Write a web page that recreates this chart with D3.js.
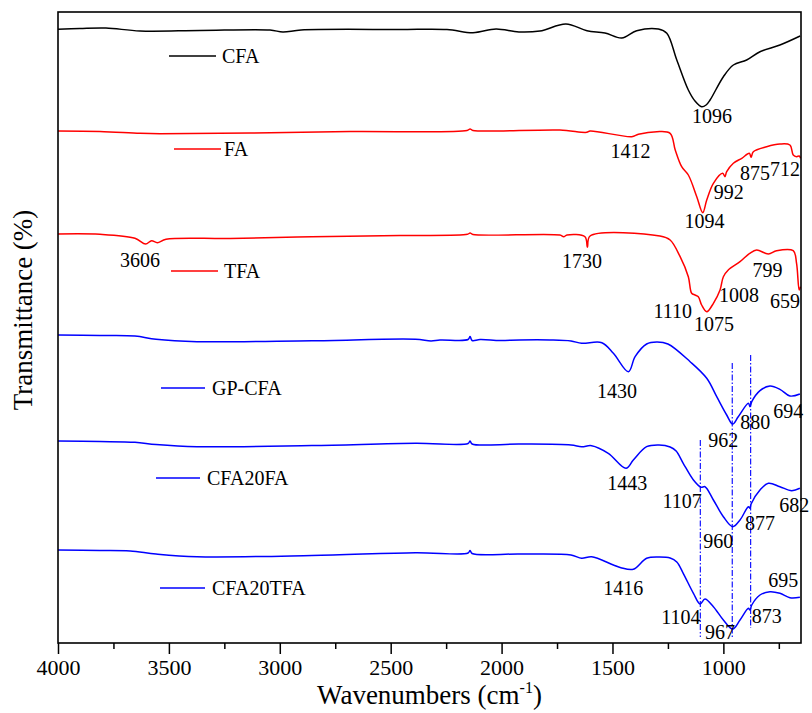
<!DOCTYPE html>
<html>
<head>
<meta charset="utf-8">
<script src="https://cdn.jsdelivr.net/npm/d3@7"></script>
<style>
  body { margin: 0; background: #fff; }
  svg { display: block; }
  text { font-family: "Liberation Serif", "Times New Roman", serif; }
</style>
</head>
<body>
<div id="chart"></div>
<script>
// FTIR spectra, stacked with offsets (arbitrary transmittance units)
// each point: [wavenumber cm-1, offset transmittance]
var cfa = [[4000,613.7],[3901,614.5],[3784,615],[3630,612],[3360,612.5],[3044,613],[2986,611],[2904,613],
  [2458,613.5],[2246,613.5],[2129,610.3],[2025,614],[1922,611],[1827,612],[1710,619],[1615,612.3],
  [1534,610],[1458,605],[1391,612.3],[1293,614],[1255,609.7],[1210,583],[1158,553],[1128,542],[1098,536.3],
  [1078,538],[1060,543],[1000,566.3],[955,578],[895,583],[835,591.3],[745,598],[654,607]];

var fa = [[4000,512],[3811,511.5],[3630,509.7],[3540,509.3],[3134,510],[2683,511.5],[2156,512.5],[2142,514],
  [2129,512.5],[1737,513],[1616,510.7],[1601,512],[1413,506.3],[1383,508.7],[1300,511.3],[1240,509.7],
  [1217,493],[1188,476.3],[1158,468],[1120,446.3],[1093,430.3],[1075,443],[1045,459.7],[1003,469.7],
  [993,466.3],[985,471.3],[955,479.7],[917,484.7],[883,489.7],[875,485.7],[865,491.3],[805,496.3],
  [745,499],[700,498],[685,488],[670,486.3],[658,487],[652,484.7]];

var tfa = [[4000,409],[3811,408.7],[3653,404.7],[3605,399],[3578,402.3],[3552,400.3],[3513,403.7],[3224,404.5],
  [2856,406.3],[2458,407.5],[2154,408.7],[2142,410],[2129,408.5],[1737,408],[1720,406.3],[1705,408],
  [1624,406.3],[1613,395.7],[1601,407],[1286,407],[1240,403],[1195,386.3],[1158,366.3],[1143,349.7],
  [1128,348],[1113,346.3],[1098,338],[1075,331.3],[1045,339.7],[1015,353],[1000,366.3],[978,373],
  [925,381.3],[881,389.7],[850,393],[797,389],[760,392.3],[685,392.3],[670,379.7],[658,353],[652,356.3]];

var gpCfa = [[4000,308],[3811,307.5],[3653,307],[3558,303.7],[3373,301.3],[2855,302.3],[2388,303.7],[2318,302],
  [2278,303],[2151,303.5],[2142,306.5],[2133,302.5],[2097,303.5],[2007,302.5],[1919,303],[1782,303],
  [1687,302],[1639,299.7],[1548,300.3],[1496,289.7],[1428,271.3],[1398,286.3],[1346,299],[1300,301],[1250,299],
  [1150,281.3],[1075,264.7],[1030,246.3],[985,228],[958,219],[933,226.3],[887,239.7],[880,236.3],
  [872,241.3],[835,252.3],[790,257],[745,253.7],[700,247],[655,249]];

var cfa20fa = [[4000,202],[3811,201.5],[3653,200.7],[3558,198.5],[3373,196.3],[2855,197.5],[2388,199.7],[2151,199.5],
  [2142,202],[2133,199],[1919,199],[1687,198],[1639,196.3],[1594,197.3],[1519,189.7],[1439,174.7],
  [1406,183],[1346,196.3],[1290,198],[1240,196],[1213,192],[1181,179.7],[1135,163],[1101,155.7],[1083,156.3],[1045,143],
  [1000,126.3],[958,116.3],[925,123],[887,136.3],[880,134.7],[875,139],[835,153],[797,159.7],
  [745,156.3],[692,152.3],[655,154.7]];

var cfa20tfa = [[4000,93],[3811,92.5],[3675,92],[3558,89],[3373,86.3],[2855,87.5],[2388,90.3],[2151,90],
  [2142,92.5],[2133,89.5],[1919,89],[1687,88],[1639,84.7],[1594,86.3],[1496,78],[1462,75.3],
  [1406,73.7],[1346,84.7],[1290,86],[1240,85],[1210,81],[1181,69.7],[1135,49.7],[1105,39],[1083,44],[1045,36.3],
  [1000,23],[958,14],[925,23],[887,34.7],[880,33],[872,38],[835,48],[790,51.3],[745,49.7],
  [700,45.3],[655,45.7]];

var seriesNames = ['CFA', 'FA', 'TFA', 'GP-CFA', 'CFA20FA', 'CFA20TFA'];
var seriesData = [cfa, fa, tfa, gpCfa, cfa20fa, cfa20tfa];

// peak labels: [text, wavenumber (label centre), offset transmittance (baseline)]
var peakLabels = [['1096',1051,520],['1412',1419,485.3],['992',976,443.7],['875',857,463],['712',722,467.3],
  ['1094',1085,414.7],['3606',3630,376.3],['1730',1637,374.7],['799',801,366.3],['1008',929,341.3],
  ['659',722,334.7],['1110',1228,324.7],['1075',1042,312.3],['1430',1480,244.7],['962',1001,196.3],
  ['880',856,213.7],['694',707,224.7],['1443',1433,153],['1107',1186,134.7],['960',1023,94.7],
  ['877',835,113],['682',680,130.7],['1416',1451,48],['695',730,55.7],['1104',1192,19],['873',804,20.3],
  ['967',1015,3.7]];

// dash-dot guide lines: [wavenumber, from, to]
var guideLines = [[1104,203,6],[960,280,6],[877,288,15]];

var majorTicks = [4000, 3500, 3000, 2500, 2000, 1500, 1000];
var minorTicks = [3750, 3250, 2750, 2250, 1750, 1250, 750];

// styling / layout
var colors = ['#000000', '#ff0000', '#ff0000', '#0000ff', '#0000ff', '#0000ff'];
var legendPos = [[169,216,56,222],[174,221,149,224],[171,218,271,224],[161,205,388,212],[156,200,478,207],[160,205,588,212]];
var serif = '"Liberation Serif", "Times New Roman", serif';

var W = 812, H = 713;
var pl = 58, pr = 801, pt = 12, pb = 643;

var svg = d3.select('#chart').append('svg').attr('width', W).attr('height', H);

var x = d3.scaleLinear().domain([4000, 650]).range([pl, pr]);
var y = d3.scaleLinear().domain([0, 631]).range([pb, pt]);

svg.append('defs').append('clipPath').attr('id', 'plotclip')
  .append('rect').attr('x', pl).attr('y', pt).attr('width', pr - pl).attr('height', pb - pt);

var line = d3.line()
  .x(function(d) { return x(d[0]); })
  .y(function(d) { return y(d[1]); })
  .curve(d3.curveCatmullRom.alpha(0.5));

var plot = svg.append('g').attr('clip-path', 'url(#plotclip)');

plot.selectAll('path.spec')
  .data(seriesData)
  .enter()
    .append('path')
    .attr('class', 'spec')
    .attr('d', line)
    .attr('fill', 'none')
    .attr('stroke', function(d, i) { return colors[i]; })
    .attr('stroke-width', 1.5);

plot.selectAll('line.guide')
  .data(guideLines)
  .enter()
    .append('line')
    .attr('x1', function(d) { return x(d[0]); })
    .attr('x2', function(d) { return x(d[0]); })
    .attr('y1', function(d) { return y(d[1]); })
    .attr('y2', function(d) { return y(d[2]); })
    .attr('stroke', '#0000ff')
    .attr('stroke-width', 1.1)
    .attr('stroke-dasharray', '6,2,1.5,2');

svg.selectAll('text.peak')
  .data(peakLabels)
  .enter()
    .append('text')
    .attr('class', 'peak')
    .attr('x', function(d) { return x(d[1]); })
    .attr('y', function(d) { return y(d[2]); })
    .attr('text-anchor', 'middle')
    .style('font-family', serif)
    .style('font-size', '20px')
    .attr('fill', '#000')
    .text(function(d) { return d[0]; });

// legend entries
var leg = svg.selectAll('g.leg')
  .data(seriesNames)
  .enter()
    .append('g')
    .attr('class', 'leg');
leg.append('line')
  .attr('x1', function(d, i) { return legendPos[i][0]; })
  .attr('x2', function(d, i) { return legendPos[i][1]; })
  .attr('y1', function(d, i) { return legendPos[i][2]; })
  .attr('y2', function(d, i) { return legendPos[i][2]; })
  .attr('stroke', function(d, i) { return colors[i]; })
  .attr('stroke-width', 1.5);
leg.append('text')
  .attr('x', function(d, i) { return legendPos[i][3]; })
  .attr('y', function(d, i) { return legendPos[i][2] + 7; })
  .style('font-family', serif)
  .style('font-size', '20px')
  .attr('fill', '#000')
  .text(function(d) { return d; });

// frame
svg.append('rect')
  .attr('x', pl).attr('y', pt)
  .attr('width', pr - pl).attr('height', pb - pt)
  .attr('fill', 'none').attr('stroke', '#000').attr('stroke-width', 1.6);

// bottom axis
var xAxis = d3.axisBottom(x).tickValues(majorTicks).tickSize(11).tickPadding(5).tickFormat(d3.format('d'));
var gx = svg.append('g').attr('transform', 'translate(0,' + pb + ')').call(xAxis);
gx.select('.domain').remove();
gx.selectAll('.tick line').attr('stroke', '#000').attr('stroke-width', 1.5);
gx.selectAll('.tick text')
  .style('font-family', serif)
  .style('font-size', '22px')
  .attr('fill', '#000');

var gm = svg.append('g').attr('transform', 'translate(0,' + pb + ')')
  .call(d3.axisBottom(x).tickValues(minorTicks).tickSize(6).tickFormat(''));
gm.select('.domain').remove();
gm.selectAll('.tick line').attr('stroke', '#000').attr('stroke-width', 1.5);

// axis titles
var xt = svg.append('text')
  .attr('x', (pl + pr) / 2)
  .attr('y', 704)
  .attr('text-anchor', 'middle')
  .style('font-family', serif)
  .style('font-size', '27px')
  .attr('fill', '#000');
xt.append('tspan').text('Wavenumbers (cm');
xt.append('tspan').style('font-size', '16px').attr('dy', -11).text('-1');
xt.append('tspan').attr('dy', 11).text(')');

svg.append('text')
  .attr('transform', 'translate(32,310) rotate(-90)')
  .attr('text-anchor', 'middle')
  .style('font-family', serif)
  .style('font-size', '27px')
  .attr('fill', '#000')
  .text('Transmittance (%)');
</script>
</body>
</html>
